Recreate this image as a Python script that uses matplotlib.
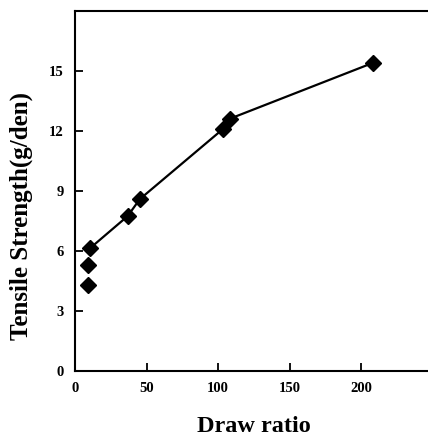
import matplotlib
matplotlib.use("Agg")
import matplotlib.pyplot as plt

draw_ratio = [9.3, 9.3, 10.5, 36.8, 45.3, 103.5, 108.0, 208.0]
strength = [4.28, 5.28, 6.12, 7.73, 8.58, 12.1, 12.6, 15.4]
line_x = [10.5, 36.8, 45.3, 103.5, 108.0, 208.0]
line_y = [6.12, 7.73, 8.58, 12.1, 12.6, 15.4]
xticks = [0, 50, 100, 150, 200]
yticks = [0, 3, 6, 9, 12, 15]

plt.rcParams['font.family'] = ['Liberation Serif', 'DejaVu Serif']
plt.rcParams['font.weight'] = 'bold'

fig = plt.figure(figsize=(4.28, 4.36), dpi=100)
ax = fig.add_axes([0.175, 0.15, 0.837, 0.825])
ax.plot(line_x, line_y, '-', color='black', lw=1.6)
ax.plot(draw_ratio, strength, 'D', color='black', ms=8.5, mec='black')
ax.set_xlim(0, 250)
ax.set_ylim(0, 18)
ax.set_xticks(xticks)
ax.set_yticks(yticks)
ax.set_xticklabels([str(t) for t in xticks], fontsize=10.5, fontweight='bold')
ax.set_yticklabels([str(t) for t in yticks], fontsize=10.5, fontweight='bold')
ax.tick_params(direction='in', length=6, width=1.3, pad=8)
ax.spines['right'].set_visible(False)
for s in ['left', 'bottom', 'top']:
    ax.spines[s].set_linewidth(1.5)
ax.set_xlabel('Draw ratio', fontsize=17.5, fontweight='bold')
ax.xaxis.set_label_coords(0.4985, -0.125)
ax.xaxis.label.set_va('top')
ax.set_ylabel('Tensile Strength(g/den)', fontsize=18, fontweight='bold')
ax.yaxis.set_label_coords(-0.117, 0.43)
fig.savefig('out.png', dpi=100)
